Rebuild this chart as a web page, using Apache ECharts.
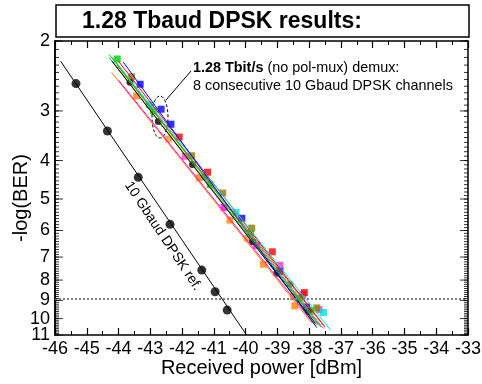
<!DOCTYPE html>
<html>
<head>
<meta charset="utf-8">
<script src="https://cdn.jsdelivr.net/npm/echarts@6/dist/echarts.min.js"></script>
<style>
  html, body { margin: 0; padding: 0; background: #fff; }
  #chart { width: 482px; height: 384px; }
</style>
</head>
<body>
<div id="chart"></div>
<script>
// -log(BER) tick labels (axis is logarithmic in -log(BER))
const yLabels = [2, 3, 4, 5, 6, 7, 8, 9, 10, 11]
const berLimit = 9

// 10 Gbaud DPSK reference: [received power dBm, -log(BER)]
const refPoints = [[-45.34, 2.56], [-44.35, 3.37], [-43.38, 4.41], [-42.38, 5.79], [-41.38, 7.55], [-40.96, 8.56], [-40.58, 9.52]]
const refFit = [[-45.82, 2.25], [-39.97, 11]]

// 1.28 Tbaud channels, measured points and fitted lines
const chGreen = [[-44.04, 2.22], [-42.9, 3.0], [-41.12, 4.6], [-39.85, 6.1], [-38.3, 8.9], [-37.95, 9.55]]
const chGreenFit = [[-44.3, 2.16], [-37.63, 10.5]]
const chBlue = [[-43.32, 2.57], [-42.66, 2.97], [-42.35, 3.24], [-40.12, 5.59], [-38.92, 7.6], [-38.08, 9.35]]
const chBlueFit = [[-43.85, 2.26], [-37.76, 10.54]]
const chRed = [[-42.09, 3.49], [-41.2, 4.28], [-39.16, 6.79], [-38.15, 8.6]]
const chRedFit = [[-44.0, 2.25], [-37.5, 10.5]]
const chOrangeA = [[-43.43, 2.75], [-41.46, 4.42], [-40.49, 5.65], [-39.44, 7.3], [-38.45, 9.29]]
const chOrangeAFit = [[-44.22, 2.4], [-37.92, 10.26]]
const chOrangeB = [[-42.43, 3.53], [-39.95, 6.28], [-38.5, 8.8]]
const chOrangeBFit = [[-44.1, 2.3], [-37.75, 10.4]]
const chMagentaA = [[-40.68, 5.25], [-39.65, 6.54], [-38.2, 8.7]]
const chMagentaAFit = [[-44.0, 2.51], [-37.85, 10.3]]
const chMagentaB = [[-41.9, 3.9], [-38.92, 7.34], [-37.69, 9.5]]
const chMagentaBFit = [[-44.2, 2.2], [-37.55, 10.6]]
const chCyan = [[-43.0, 2.9], [-40.3, 5.4], [-37.55, 9.65]]
const chCyanFit = [[-44.2, 2.2], [-37.32, 10.7]]
const chTeal = [[-43.04, 2.9], [-41.3, 4.4], [-38.6, 8.2]]
const chTealFit = [[-44.3, 2.2], [-37.7, 10.4]]
const chOlive = [[-43.59, 2.46], [-41.7, 3.89], [-40.72, 4.83], [-39.81, 5.92], [-37.76, 9.4]]
const chOliveFit = [[-44.05, 2.3], [-37.55, 10.4]]
const chBlack = [[-43.64, 2.54], [-42.75, 3.19], [-41.67, 4.09], [-39.78, 6.41], [-39.02, 7.69], [-38.03, 9.6]]
const chBlackFit = [[-44.2, 2.25], [-37.8, 10.3]]

const font = 'Liberation Sans, Arial, Helvetica, sans-serif'

const channels = [
  { color: '#00a060', symbol: 'circle', pts: chTeal, fit: chTealFit },
  { color: '#ff8000', symbol: 'rect', pts: chOrangeA, fit: chOrangeAFit },
  { color: '#ff9a1a', symbol: 'rect', pts: chOrangeB, fit: chOrangeBFit },
  { color: '#ff00ff', symbol: 'rect', pts: chMagentaA, fit: chMagentaAFit },
  { color: '#ff33cc', symbol: 'rect', pts: chMagentaB, fit: chMagentaBFit },
  { color: '#8c7a00', symbol: 'rect', pts: chOlive, fit: chOliveFit },
  { color: '#ff0000', symbol: 'rect', pts: chRed, fit: chRedFit },
  { color: '#00e0e0', symbol: 'rect', pts: chCyan, fit: chCyanFit },
  { color: '#0000ff', symbol: 'rect', pts: chBlue, fit: chBlueFit },
  { color: '#00d000', symbol: 'rect', pts: chGreen, fit: chGreenFit },
  { color: '#000000', symbol: 'circle', pts: chBlack, fit: chBlackFit }
]

// y axis works in log10(-log(BER))
const lg = function (pts) { return pts.map(function (p) { return [p[0], Math.log10(p[1])] }) }
const majorTicks = yLabels.map(function (v) { return Math.log10(v) })
// labels split over two overlaid axes so the close 10/11 pair is not thinned out
const labelsEven = majorTicks.filter(function (v, i) { return i % 2 === 0 })
const labelsOdd = majorTicks.filter(function (v, i) { return i % 2 === 1 })
const minorTicks = []
for (let i = 20; i <= 110; i++) minorTicks.push(Math.log10(i / 10))

const chart = echarts.init(document.getElementById('chart'))

const xBase = {
  type: 'value',
  min: -46,
  max: -33,
  interval: 1,
  axisLine: { onZero: false, lineStyle: { color: '#000', width: 1.5 } },
  axisTick: { inside: true, length: 7, lineStyle: { color: '#000', width: 1.2 } },
  minorTick: { show: true, splitNumber: 2, length: 4, lineStyle: { color: '#000', width: 1 } },
  splitLine: { show: false }
}

const yBase = {
  type: 'value',
  inverse: true,
  min: Math.log10(2),
  max: Math.log10(11),
  axisLine: { show: true, onZero: false, lineStyle: { color: '#000', width: 1.5 } },
  axisTick: { show: false },
  splitLine: { show: false },
  minorTick: { show: false }
}

const yLabelStyle = function (vals) {
  return {
    customValues: vals,
    showMinLabel: true,
    showMaxLabel: true,
    fontSize: 18,
    color: '#000',
    margin: 5,
    fontFamily: font,
    formatter: function (v) { return String(Math.round(Math.pow(10, v))) }
  }
}

const series = []
series.push({
  type: 'line',
  data: lg(refFit),
  showSymbol: false,
  lineStyle: { color: '#000', width: 1 },
  silent: true,
  markLine: {
    silent: true,
    symbol: 'none',
    label: { show: false },
    lineStyle: { type: 'dotted', color: '#808080', width: 2 },
    data: [{ yAxis: Math.log10(berLimit) }]
  }
})
series.push({
  type: 'scatter',
  data: lg(refPoints),
  symbol: 'circle',
  symbolSize: 9,
  itemStyle: { color: '#000' }
})
channels.forEach(function (ch) {
  series.push({
    type: 'line',
    data: lg(ch.fit),
    showSymbol: false,
    lineStyle: { color: ch.color, width: 1 },
    silent: true
  })
})
channels.forEach(function (ch) {
  series.push({
    type: 'scatter',
    data: lg(ch.pts),
    symbol: ch.symbol,
    symbolSize: 7,
    itemStyle: { color: ch.color }
  })
})

// inward ticks on the left and right frame of the log axis
const tickSeries = function (vals, xEdge, len, dir) {
  return {
    type: 'scatter',
    data: vals.map(function (v) { return [xEdge, v] }),
    symbol: 'rect',
    symbolSize: [len, 1],
    symbolOffset: [dir * len / 2, 0],
    itemStyle: { color: '#000' },
    silent: true,
    clip: false,
    z: 5
  }
}
series.push(tickSeries(majorTicks, -46, 8, 1))
series.push(tickSeries(minorTicks, -46, 4, 1))
series.push(tickSeries(majorTicks, -33, 8, -1))
series.push(tickSeries(minorTicks, -33, 4, -1))

const option = {
  animation: false,
  grid: { left: 55, right: 14, top: 41, bottom: 49, outerBoundsMode: 'none', containLabel: false },
  xAxis: [
    Object.assign({}, xBase, {
      position: 'bottom',
      axisLabel: { fontSize: 18, color: '#000', margin: 5, fontFamily: font },
      name: 'Received power [dBm]',
      nameLocation: 'middle',
      nameGap: 23,
      nameMoveOverlap: false,
      nameTextStyle: { fontSize: 20, color: '#000', fontFamily: font }
    }),
    Object.assign({}, xBase, { position: 'top', axisLabel: { show: false } })
  ],
  yAxis: [
    Object.assign({}, yBase, { position: 'left', axisLabel: yLabelStyle(labelsEven) }),
    Object.assign({}, yBase, { position: 'right', axisLabel: { show: false } }),
    Object.assign({}, yBase, { position: 'left', axisLabel: yLabelStyle(labelsOdd) })
  ],
  series: series,
  graphic: [
    {
      type: 'rect',
      shape: { x: 56, y: 5, width: 413, height: 32 },
      style: { fill: '#fff', stroke: '#000', lineWidth: 1.5 }
    },
    {
      type: 'text',
      x: 82,
      y: 22,
      style: { text: '1.28 Tbaud DPSK results:', font: 'bold 23px ' + font, fill: '#000', verticalAlign: 'middle' }
    },
    {
      type: 'text',
      x: 21,
      y: 198,
      rotation: Math.PI / 2,
      style: { text: '-log(BER)', font: '20px ' + font, fill: '#000', align: 'center', verticalAlign: 'middle' }
    },
    {
      type: 'text',
      x: 193,
      y: 59,
      style: {
        text: '{b|1.28 Tbit/s} (no pol-mux) demux:\n8 consecutive 10 Gbaud DPSK channels',
        font: '14.4px ' + font,
        fill: '#000',
        lineHeight: 18,
        rich: { b: { fontWeight: 'bold', fontSize: 14.4, fontFamily: font, lineHeight: 18 } }
      }
    },
    {
      type: 'line',
      shape: { x1: 166, y1: 100, x2: 191, y2: 71 },
      style: { stroke: '#000', lineWidth: 1 }
    },
    {
      type: 'ellipse',
      shape: { cx: 160, cy: 117, rx: 8, ry: 21 },
      style: { fill: 'none', stroke: '#000', lineWidth: 1, lineDash: [3, 2] }
    },
    {
      type: 'text',
      x: 163,
      y: 236,
      rotation: -0.983,
      style: { text: '10 Gbaud DPSK ref.', font: '14px ' + font, fill: '#000', align: 'center', verticalAlign: 'middle' }
    }
  ]
}

chart.setOption(option)
</script>
</body>
</html>
